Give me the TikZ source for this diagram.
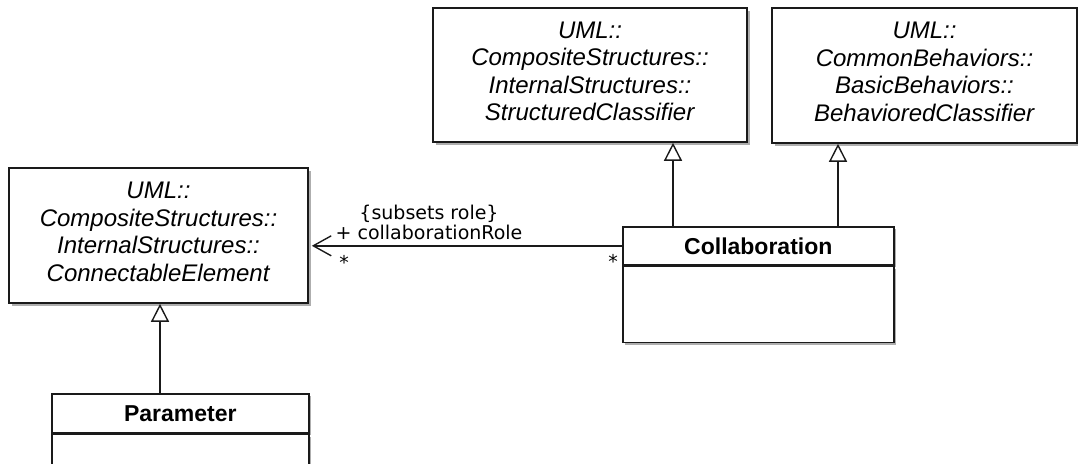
\documentclass[tikz,border=0pt]{standalone}
\usepackage{fontspec}
\setmainfont{Liberation Sans}
\newfontfamily\lblfont{DejaVu Sans}
\usepackage{xcolor}
\usepackage{tikz}
\usetikzlibrary{arrows.meta,positioning,calc,shadows}
\definecolor{ln}{HTML}{1A1A1A}
\definecolor{sh}{HTML}{8C8C8C}
\newcommand{\qual}[1]{\textit{#1}}

\tikzset{
  boxshadow/.style={drop shadow={shadow xshift=2.5pt, shadow yshift=-2.5pt, fill=sh, opacity=0.7}},
  classbox/.style={draw=ln, line width=1.6pt, fill=white, align=center, inner sep=2pt,
    text depth=8pt, font=\fontsize{24}{27.5}\selectfont, boxshadow},
  namebox/.style={draw=ln, line width=1.6pt, fill=white, inner sep=0pt,
    font=\fontsize{23}{26}\selectfont\bfseries, boxshadow},
  bodybox/.style={draw=ln, line width=1.6pt, fill=white, inner sep=0pt, boxshadow},
  gen/.style={draw=ln, line width=1.4pt, -{Triangle[fill=white, length=18pt, width=18pt]}},
  assoc/.style={draw=ln, line width=1.4pt, -{Straight Barb[length=18pt, width=20pt]}},
  lbl/.style={font=\lblfont\fontsize{19}{20}\selectfont, inner sep=0pt, align=center}
}

\begin{document}
\begin{tikzpicture}[x=1pt, y=-1pt]
  \useasboundingbox (0,0) rectangle (1078,463);
  \node[classbox, minimum width=314pt, minimum height=134pt] (sc) at (590,75) {%
    \qual{UML::}\\
    \qual{CompositeStructures::}\\
    \qual{InternalStructures::}\\
    \qual{StructuredClassifier}};
  \node[classbox, minimum width=305pt, minimum height=135pt] (bc) at (924.5,75.5) {%
    \qual{UML::}\\
    \qual{CommonBehaviors::}\\
    \qual{BasicBehaviors::}\\
    \qual{BehavioredClassifier}};
  \node[classbox, minimum width=299pt, minimum height=135pt] (ce) at (158.5,235.5) {%
    \qual{UML::}\\
    \qual{CompositeStructures::}\\
    \qual{InternalStructures::}\\
    \qual{ConnectableElement}};

  \node[namebox, anchor=north west, minimum width=271pt, minimum height=38pt] (collab) at (622,226) {Collaboration};
  \node[bodybox, below=0pt of collab, minimum width=271pt, minimum height=76pt] (collabbody) {};
  \node[namebox, anchor=north west, minimum width=257pt, minimum height=39pt] (param) at (51,393) {Parameter};
  \node[bodybox, below=0pt of param, minimum width=257pt, minimum height=70pt] (parambody) {};

  \coordinate (g1) at (673,226);
  \coordinate (g2) at (838,226);
  \coordinate (g3) at (160,393);
  \draw[gen] (g1) -- (g1 |- sc.south);
  \draw[gen] (g2) -- (g2 |- bc.south);
  \draw[gen] (g3) -- (g3 |- ce.south);

  \draw[assoc] (collab.west) -- ($(collab.west -| ce.east)+(3,0)$);
  \node[lbl] (rolelbl) at (429,222) {\{subsets role\}\\+ collaborationRole};
  \node[lbl] (multce) at (344,262) {*};
  \node[lbl] (multcollab) at (613,261) {*};
\end{tikzpicture}
\end{document}
